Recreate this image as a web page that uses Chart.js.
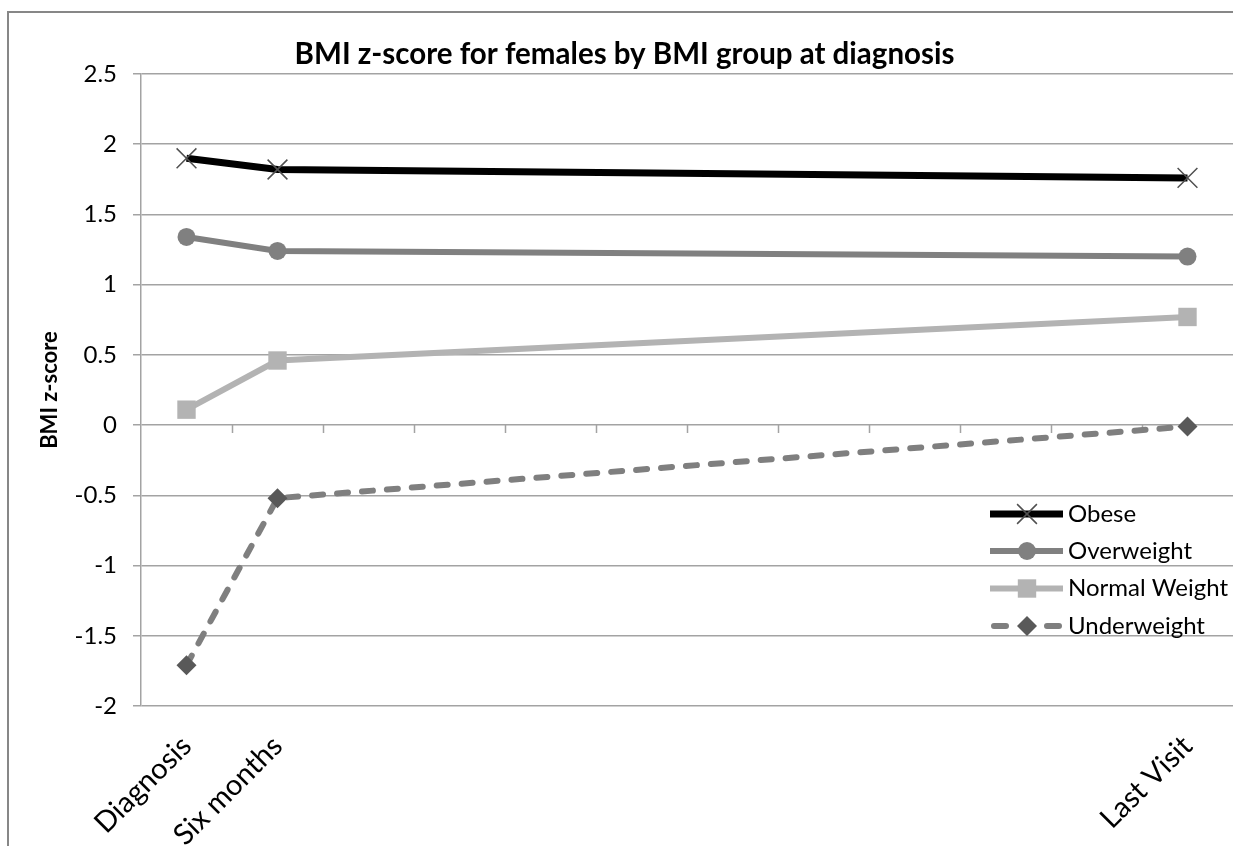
<!DOCTYPE html>
<html><head><meta charset="utf-8">
<script src="https://cdn.jsdelivr.net/npm/chart.js@4/dist/chart.umd.min.js"></script>
<style>
html,body{margin:0;padding:0;background:#fff;overflow:hidden;}
canvas{display:block;}
</style></head><body>
<canvas id="c" width="1233" height="846"></canvas>
<script>
const categories = ['Diagnosis','Six months','','','','','','','','','','Last Visit'];
const seriesNames = ['Obese','Overweight','Normal Weight','Underweight'];
const obese        = [1.90, 1.82, null, null, null, null, null, null, null, null, null, 1.76];
const overweight   = [1.34, 1.24, null, null, null, null, null, null, null, null, null, 1.20];
const normalWeight = [0.11, 0.46, null, null, null, null, null, null, null, null, null, 0.77];
const underweight  = [-1.71, -0.52, null, null, null, null, null, null, null, null, null, -0.01];
const yMin = -2, yMax = 2.5, yStep = 0.5;
const chartTitle = 'BMI z-score for females by BMI group at diagnosis';
const yTitle = 'BMI z-score';

const GRID = '#a3a3a3';
const FONT = 'Lato';

const datasets = [
  {label: seriesNames[0], data: obese, borderColor: '#000000', backgroundColor: '#000000', borderWidth: 7,
   pointStyle: 'crossRot', pointRadius: 14, pointBorderColor: '#505050', pointBackgroundColor: '#505050', pointBorderWidth: 1.5},
  {label: seriesNames[1], data: overweight, borderColor: '#808080', backgroundColor: '#808080', borderWidth: 6,
   pointStyle: 'circle', pointRadius: 9, pointBorderColor: '#808080', pointBackgroundColor: '#808080', pointBorderWidth: 0},
  {label: seriesNames[2], data: normalWeight, borderColor: '#b3b3b3', backgroundColor: '#b3b3b3', borderWidth: 6,
   pointStyle: 'rect', pointRadius: 13, pointBorderColor: '#b3b3b3', pointBackgroundColor: '#b3b3b3', pointBorderWidth: 0},
  {label: seriesNames[3], data: underweight, borderColor: '#7f7f7f', backgroundColor: '#7f7f7f', borderWidth: 6,
   borderDash: [11, 14], borderCapStyle: 'round',
   pointStyle: 'rectRot', pointRadius: 10, pointBorderColor: '#595959', pointBackgroundColor: '#595959', pointBorderWidth: 0}
];

function drawMarker(ctx, ds, x, y) {
  const r = ds.pointRadius;
  ctx.save();
  ctx.fillStyle = ds.pointBackgroundColor;
  ctx.strokeStyle = ds.pointBorderColor;
  ctx.lineWidth = ds.pointBorderWidth || 1;
  ctx.beginPath();
  if (ds.pointStyle === 'crossRot') {
    const o = r * Math.SQRT1_2;
    ctx.moveTo(x - o, y - o); ctx.lineTo(x + o, y + o);
    ctx.moveTo(x + o, y - o); ctx.lineTo(x - o, y + o);
    ctx.stroke();
  } else if (ds.pointStyle === 'circle') {
    ctx.arc(x, y, r, 0, Math.PI * 2); ctx.fill();
  } else if (ds.pointStyle === 'rect') {
    const s = r * Math.SQRT1_2;
    ctx.rect(x - s, y - s, 2 * s, 2 * s); ctx.fill();
  } else if (ds.pointStyle === 'rectRot') {
    ctx.moveTo(x - r, y); ctx.lineTo(x, y - r); ctx.lineTo(x + r, y); ctx.lineTo(x, y + r); ctx.closePath(); ctx.fill();
  }
  ctx.restore();
}

const framePlugin = {
  id: 'frame',
  beforeDraw(chart) {
    const ctx = chart.ctx;
    ctx.save();
    ctx.fillStyle = '#ffffff';
    ctx.fillRect(0, 0, chart.width, chart.height);
    ctx.strokeStyle = '#878787';
    ctx.lineWidth = 2;
    ctx.beginPath();
    ctx.moveTo(8, chart.height + 5); ctx.lineTo(8, 12); ctx.lineTo(chart.width + 5, 12);
    ctx.stroke();
    ctx.restore();
  }
};

const legendPlugin = {
  id: 'excelLegend',
  afterDatasetsDraw(chart) {
    const ctx = chart.ctx;
    const x0 = 990, x1 = 1063, xm = 1027, tx = 1068;
    const ys = [514, 551, 588.5, 626];
    chart.data.datasets.forEach((ds, i) => {
      const y = ys[i];
      ctx.save();
      ctx.strokeStyle = ds.borderColor;
      ctx.lineWidth = ds.borderWidth;
      if (ds.borderDash) {
        ctx.lineCap = 'round';
        ctx.beginPath();
        ctx.moveTo(x0 + 4, y); ctx.lineTo(x0 + 16, y);
        ctx.moveTo(x1 - 16, y); ctx.lineTo(x1 - 4, y);
        ctx.stroke();
      } else {
        ctx.beginPath(); ctx.moveTo(x0, y); ctx.lineTo(x1, y); ctx.stroke();
      }
      ctx.restore();
      drawMarker(ctx, ds, xm, y);
      ctx.save();
      ctx.fillStyle = '#000';
      ctx.font = '24px ' + FONT;
      ctx.textBaseline = 'middle';
      ctx.textAlign = 'left';
      ctx.fillText(ds.label, tx, y);
      ctx.restore();
    });
  }
};

const zeroTicksPlugin = {
  id: 'zeroTicks',
  beforeDatasetsDraw(chart) {
    const xs = chart.scales.x, ys = chart.scales.y, ctx = chart.ctx;
    const y0 = ys.getPixelForValue(0);
    ctx.save();
    ctx.strokeStyle = GRID;
    ctx.lineWidth = 1.5;
    ctx.beginPath();
    for (let i = 1; i < categories.length; i++) {
      const bx = Math.round((xs.getPixelForValue(i - 1) + xs.getPixelForValue(i)) / 2) + 0.5;
      ctx.moveTo(bx, y0); ctx.lineTo(bx, y0 + 8);
    }
    ctx.stroke();
    ctx.restore();
  }
};

new Chart(document.getElementById('c'), {
  type: 'line',
  data: {labels: categories, datasets: datasets},
  options: {
    responsive: false,
    animation: false,
    spanGaps: true,
    events: [],
    elements: {line: {tension: 0}},
    layout: {autoPadding: false, padding: {left: 16, right: 0, top: 30, bottom: 0}},
    plugins: {
      legend: {display: false},
      tooltip: {enabled: false},
      title: {
        display: true, text: chartTitle, color: '#000',
        font: {family: FONT, size: 29.5, weight: 'bold'},
        padding: {top: 7, bottom: 1.6}
      }
    },
    scales: {
      x: {
        type: 'category', offset: true,
        grid: {display: false},
        border: {display: false},
        ticks: {autoSkip: false, maxRotation: 45, minRotation: 45, color: '#000',
                font: {family: FONT, size: 29}, padding: 15},
        afterFit(scale) { scale.height = 140; scale.paddingRight = 0; scale.paddingLeft = 0; }
      },
      y: {
        min: yMin, max: yMax,
        ticks: {stepSize: yStep, color: '#000', font: {family: FONT, size: 24}, padding: 16,
                callback: v => String(v)},
        grid: {color: GRID, lineWidth: 1.5, tickLength: 8, drawTicks: true},
        border: {display: true, color: GRID, width: 1.5},
        title: {display: true, text: yTitle, color: '#000', font: {family: FONT, size: 22, weight: 'bold'},
                padding: {top: 21, bottom: 0}},
        afterFit(scale) { scale.width = 125; }
      }
    }
  },
  plugins: [framePlugin, zeroTicksPlugin, legendPlugin]
});
</script>
</body></html>
